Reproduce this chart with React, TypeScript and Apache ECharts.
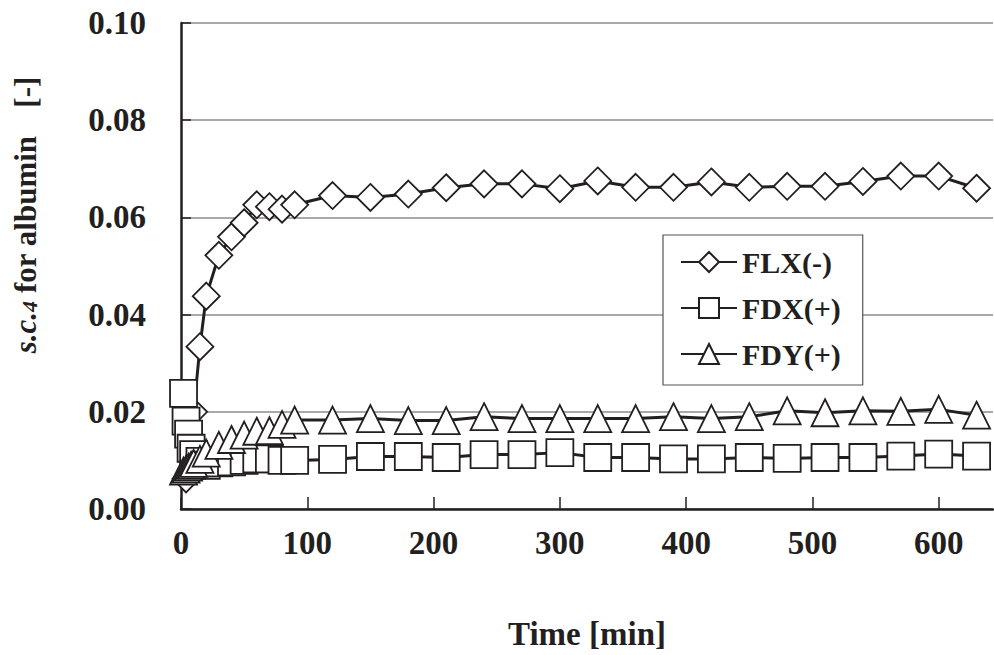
import React, { useEffect, useRef } from 'react';
import * as echarts from 'echarts';

// Tick values
const xTicks = [0, 100, 200, 300, 400, 500, 600];

// FLX(-)
const flxTime = [4, 10, 15, 20, 30, 40, 50, 60, 70, 80, 90, 120, 150, 180, 210, 240, 270, 300, 330, 360, 390, 420, 450, 480, 510, 540, 570, 600, 630];
const flxValue = [0.0062, 0.020, 0.0334, 0.0438, 0.0522, 0.0560, 0.0589, 0.0626, 0.0622, 0.0617, 0.0626, 0.0645, 0.0641, 0.0648, 0.0661, 0.0669, 0.0669, 0.0659, 0.0675, 0.0662, 0.0662, 0.0673, 0.0662, 0.0664, 0.0664, 0.0674, 0.0685, 0.0685, 0.0660];

// FDX(+)
const fdxTime = [2, 4, 6, 8, 10, 15, 20, 30, 40, 50, 60, 70, 80, 90, 120, 150, 180, 210, 240, 270, 300, 330, 360, 390, 420, 450, 480, 510, 540, 570, 600, 630];
const fdxValue = [0.0238, 0.0181, 0.0154, 0.0125, 0.0112, 0.0098, 0.0090, 0.0095, 0.0097, 0.0100, 0.0103, 0.0103, 0.0100, 0.0100, 0.0102, 0.0108, 0.0108, 0.0106, 0.0112, 0.0112, 0.0116, 0.0106, 0.0106, 0.0103, 0.0103, 0.0106, 0.0104, 0.0106, 0.0106, 0.0109, 0.0113, 0.0109];

// FDY(+)
const fdyTime = [2, 4, 6, 8, 10, 15, 20, 30, 40, 50, 60, 70, 80, 90, 120, 150, 180, 210, 240, 270, 300, 330, 360, 390, 420, 450, 480, 510, 540, 570, 600, 630];
const fdyValue = [0.0078, 0.0082, 0.0086, 0.0090, 0.0094, 0.0102, 0.0115, 0.0131, 0.0143, 0.0152, 0.0160, 0.0161, 0.0174, 0.0183, 0.0183, 0.0186, 0.0182, 0.0182, 0.0190, 0.0186, 0.0186, 0.0186, 0.0186, 0.0190, 0.0186, 0.0190, 0.0202, 0.0198, 0.0202, 0.0201, 0.0205, 0.0193];

const FONT = '"Liberation Serif", "Times New Roman", serif';
const INK = '#231f20';

export default function App() {
  const ref = useRef<HTMLDivElement>(null);
  useEffect(() => {
    const chart = echarts.init(ref.current!, null, { renderer: 'svg' });
    const mk = (name: string, times: number[], vals: number[], symbol: string) => ({
      name,
      type: 'line',
      data: times.map((t, i) => [t, vals[i]]),
      symbol,
      symbolSize: 27,
      lineStyle: { color: INK, width: 3 },
      itemStyle: { color: '#ffffff', borderColor: INK, borderWidth: 1.8 },
      emphasis: { disabled: true },
    });
    chart.setOption({
      animation: false,
      backgroundColor: '#ffffff',
      grid: { left: 181, right: 1, top: 23, bottom: 146, containLabel: false },
      xAxis: {
        type: 'value',
        min: 0,
        max: 643,
        interval: 100,
        axisLine: { show: true, lineStyle: { color: INK, width: 2.5 } },
        axisTick: { show: true, inside: true, length: 12, customValues: xTicks, lineStyle: { color: INK, width: 1.5 } },
        axisLabel: { customValues: xTicks, margin: 17, fontFamily: FONT, fontSize: 33, fontWeight: 'bold', color: INK },
        splitLine: { show: false },
        name: 'Time [min]',
        nameLocation: 'middle',
        nameGap: 108,
        nameTextStyle: { fontFamily: FONT, fontSize: 33, fontWeight: 'bold', color: INK },
      },
      yAxis: {
        type: 'value',
        min: 0,
        max: 0.1,
        interval: 0.02,
        axisLine: { show: true, lineStyle: { color: INK, width: 2.5 } },
        axisTick: { show: true, inside: true, length: 10, lineStyle: { color: INK, width: 1.5 } },
        axisLabel: { margin: 35, fontFamily: FONT, fontSize: 33, fontWeight: 'bold', color: INK, formatter: (v: number) => v.toFixed(2) },
        splitLine: { show: true, lineStyle: { color: '#8c8c8c', width: 1.5 } },
      },
      legend: {
        orient: 'vertical',
        left: 663,
        top: 235,
        backgroundColor: '#ffffff',
        borderColor: '#555555',
        borderWidth: 1.2,
        padding: [12, 22, 16, 17],
        itemGap: 16,
        itemWidth: 56,
        itemHeight: 25,
        textStyle: { fontFamily: FONT, fontSize: 30, fontWeight: 'bold', color: INK },
        data: ['FLX(-)', 'FDX(+)', 'FDY(+)'],
      },
      graphic: [
        {
          type: 'text',
          x: 25,
          y: 215,
          rotation: Math.PI / 2,
          style: {
            text: '{i|s.c.}{s|4}{b| for albumin}{g|[-]}',
            align: 'center',
            verticalAlign: 'middle',
            fill: INK,
            fontFamily: FONT,
            fontSize: 30,
            fontWeight: 'bold',
            rich: {
              i: { fontFamily: FONT, fontSize: 31, fontWeight: 'bold', fontStyle: 'italic', fill: INK },
              s: { fontFamily: FONT, fontSize: 22, fontWeight: 'bold', fontStyle: 'italic', fill: INK, verticalAlign: 'bottom' },
              b: { fontFamily: FONT, fontSize: 31, fontWeight: 'bold', fill: INK },
              g: { fontFamily: FONT, fontSize: 31, fontWeight: 'bold', fill: INK, padding: [0, 0, 0, 28] },
            },
          },
        },
      ],
      series: [
        mk('FLX(-)', flxTime, flxValue, 'diamond'),
        mk('FDX(+)', fdxTime, fdxValue, 'rect'),
        mk('FDY(+)', fdyTime, fdyValue, 'triangle'),
      ],
    });
    return () => chart.dispose();
  }, []);
  return <div ref={ref} style={{ position: 'absolute', left: 0, top: 0, width: 994, height: 655 }} />;
}
